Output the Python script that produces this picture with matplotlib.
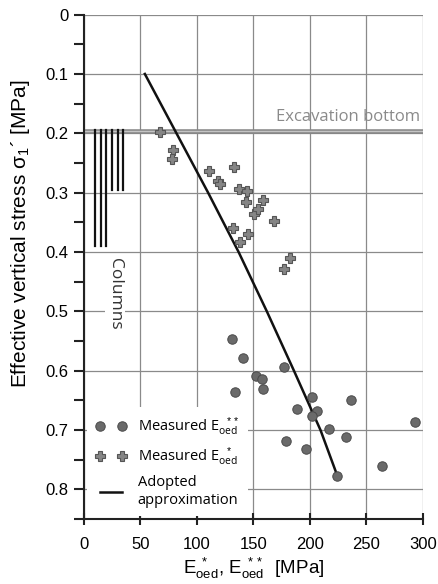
import matplotlib
matplotlib.use("Agg")
import matplotlib.pyplot as plt
from matplotlib.lines import Line2D
from matplotlib.ticker import MultipleLocator

plt.rcParams['font.family'] = ['Liberation Sans', 'DejaVu Sans']
plt.rcParams['mathtext.fontset'] = 'custom'
plt.rcParams['mathtext.rm'] = 'Liberation Sans'
plt.rcParams['mathtext.it'] = 'Liberation Sans:italic'

# Measured E_oed** (circles)
E2 = [130.8, 140.5, 177.4, 152.3, 157.4, 134.0, 158.3, 201.7, 236.2, 188.4,
      206.7, 202.2, 293.2, 217.3, 178.6, 232.1, 196.6, 264.0, 223.8]
s2 = [0.547, 0.579, 0.593, 0.609, 0.614, 0.635, 0.631, 0.645, 0.649, 0.664,
      0.667, 0.677, 0.686, 0.698, 0.719, 0.712, 0.731, 0.761, 0.778]

# Measured E_oed* (plus)
E1 = [67.3, 78.5, 77.7, 111.0, 133.1, 118.4, 120.5, 137.0, 144.7, 143.5,
      151.0, 132.3, 145.0, 138.2, 158.3, 154.4, 168.5, 182.5, 177.2]
s1 = [0.198, 0.228, 0.243, 0.263, 0.257, 0.280, 0.285, 0.293, 0.298, 0.315,
      0.336, 0.360, 0.369, 0.383, 0.312, 0.327, 0.348, 0.410, 0.429]

# Adopted approximation
E_fit = [54, 82, 110, 137, 162, 186, 209.5, 224.4]
s_fit = [0.10, 0.20, 0.30, 0.40, 0.50, 0.60, 0.70, 0.777]

# Columns
col_x = [10, 15, 20, 25, 30, 35]
col_bottom = [0.39, 0.39, 0.39, 0.295, 0.295, 0.295]
col_top = 0.195
excavation = 0.1945

CAL = ['Open Sans', 'DejaVu Sans']

fig = plt.figure(figsize=(4.39, 5.84), dpi=100)
ax = fig.add_axes([0.191, 0.111, 0.772, 0.864])

ax.set_xlim(0, 300)
ax.set_ylim(0.85, 0)
ax.xaxis.set_major_locator(MultipleLocator(50))
ax.yaxis.set_minor_locator(MultipleLocator(0.05))
ax.set_yticks([0, 0.1, 0.2, 0.3, 0.4, 0.5, 0.6, 0.7, 0.8])
ax.set_yticklabels(['0', '0.1', '0.2', '0.3', '0.4', '0.5', '0.6', '0.7', '0.8'])

ax.grid(True, which='major', color='#8a8a8a', lw=0.9)
ax.set_axisbelow(True)
for sp in ['top', 'right']:
    ax.spines[sp].set_visible(False)
for sp in ['left', 'bottom']:
    ax.spines[sp].set_linewidth(1.5)
    ax.spines[sp].set_color('#222222')

ax.tick_params(axis='x', direction='inout', length=9, width=1.5, labelsize=12, pad=8, color='#222222')
ax.tick_params(axis='y', which='major', direction='out', length=7, width=1.5, labelsize=12, pad=4, color='#222222')
ax.tick_params(axis='y', which='minor', direction='out', length=7, width=1.5, color='#222222')

# Excavation bottom: light band bounded by gray lines
ax.axhspan(excavation, 0.2, color='#c4c4c4', lw=0, zorder=1.5)
ax.axhline(excavation, color='#858585', lw=1.1, zorder=2)
ax.axhline(0.2, color='#858585', lw=1.1, zorder=2)
ax.text(298, 0.186, 'Excavation bottom', ha='right', va='bottom', color='#8a8a8a',
        fontsize=12, family=CAL)

for x, b in zip(col_x, col_bottom):
    ax.plot([x, x], [col_top, b], color='#111111', lw=1.6, zorder=3)
ax.text(27.5, 0.47, 'Columns', rotation=-90, ha='center', va='center', color='#333333',
        fontsize=12.5, family=CAL,
        bbox=dict(facecolor='white', edgecolor='none', pad=1.5), zorder=3)

ax.plot(E_fit, s_fit, color='#111111', lw=1.8, zorder=4)
ax.plot(E1, s1, linestyle='none', marker='P', ms=7.8, mfc='#858585', mec='#555555',
        mew=0.8, zorder=5)
ax.plot(E2, s2, linestyle='none', marker='o', ms=6.8, mfc='#6a6a6a', mec='#4a4a4a',
        mew=0.7, zorder=5)

h1 = Line2D([], [], linestyle='none', marker='o', ms=6.8, mfc='#6a6a6a', mec='#4a4a4a', mew=0.7)
h2 = Line2D([], [], linestyle='none', marker='P', ms=7.8, mfc='#858585', mec='#555555', mew=0.8)
h3 = Line2D([], [], color='#111111', lw=1.8)
leg = ax.legend([h1, h2, h3],
                [r'Measured E$_{\mathregular{oed}}^{\ \ **}$',
                 r'Measured E$_{\mathregular{oed}}^{\ \ *}$',
                 'Adopted\napproximation'],
                loc='lower left', bbox_to_anchor=(0.0, 0.0), borderaxespad=0.2,
                numpoints=2, frameon=True, fancybox=False, framealpha=1,
                facecolor='white', edgecolor='none',
                prop={'family': CAL, 'size': 10.5},
                handlelength=2.1, handletextpad=0.8, labelspacing=0.5,
                borderpad=0.6)
leg.set_zorder(6)

ax.set_ylabel(r"Effective vertical stress σ$_1$´ [MPa]", fontsize=15)
ax.yaxis.set_label_coords(-0.153, 0.565)
ax.set_xlabel(r"E$_{\mathregular{oed}}^{\ *}$, E$_{\mathregular{oed}}^{\ **}$  [MPa]",
              fontsize=13.5, labelpad=3)

fig.savefig('out.png', dpi=100)
